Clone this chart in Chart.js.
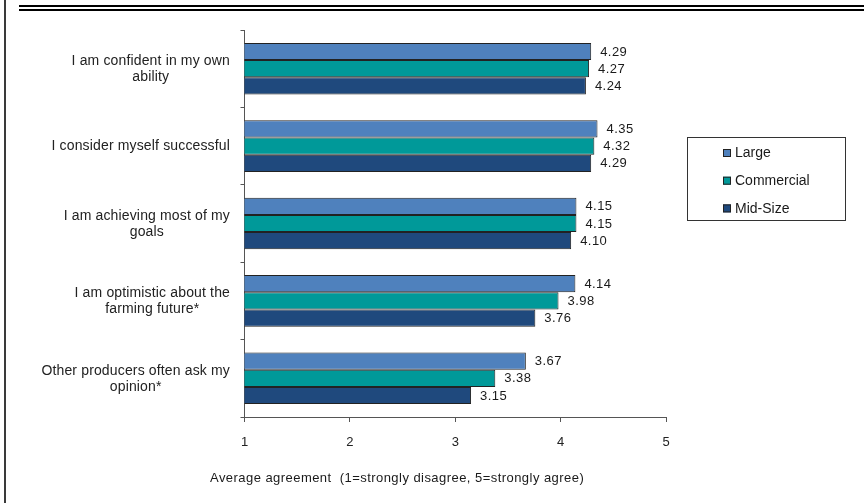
<!DOCTYPE html>
<html>
<head>
<meta charset="utf-8">
<script src="https://cdn.jsdelivr.net/npm/chart.js@4.4.1/dist/chart.umd.min.js"></script>
<style>
  html, body { margin: 0; padding: 0; background: #fff; }
  #wrap { width: 864px; height: 503px; position: relative; }
</style>
</head>
<body>
<div id="wrap"><canvas id="chart"></canvas></div>
<script>
// -------- data --------
const statements = [
  ["I am confident in my own", "ability"],
  ["I consider myself successful"],
  ["I am achieving most of my", "goals"],
  ["I am optimistic about the", "farming future*"],
  ["Other producers often ask my", "opinion*"]
];
const seriesNames = ["Large", "Commercial", "Mid-Size"];
const large      = [4.29, 4.35, 4.15, 4.14, 3.67];
const commercial = [4.27, 4.32, 4.15, 3.98, 3.38];
const midSize    = [4.24, 4.29, 4.10, 3.76, 3.15];
const xTicks = [1, 2, 3, 4, 5];
const xTitle = "Average agreement  (1=strongly disagree, 5=strongly agree)";

const colors = ["#4f81bd", "#009999", "#1f497d"];
const FONT = "'Liberation Sans', Arial, sans-serif";

// -------- helpers: frame, category labels, value labels, legend, axis title --------
const decorations = {
  id: "decorations",
  afterDraw(chart) {
    const { ctx, chartArea } = chart;
    const yScale = chart.scales.y;
    ctx.save();

    // page frame: left rule + double rule at the top
    ctx.fillStyle = "#3a3a3a";
    ctx.fillRect(4, 0, 2, chart.height);
    ctx.fillStyle = "#000";
    ctx.fillRect(19, 5, chart.width - 19, 2);
    ctx.fillRect(19, 9, chart.width - 19, 2);

    // category labels: block right-aligned, lines centred within the block
    ctx.font = "14px " + FONT;
    ctx.letterSpacing = "0.15px";
    ctx.fillStyle = "#222";
    ctx.textAlign = "center";
    ctx.textBaseline = "middle";
    const right = chartArea.left - 14.5;
    const lh = 16;
    statements.forEach((lines, i) => {
      const cy = yScale.getPixelForTick(i);
      const w = Math.max(...lines.map(l => ctx.measureText(l).width));
      const cx = right - w / 2;
      const y0 = cy - (lines.length - 1) * lh / 2 + 0.5;
      lines.forEach((l, k) => ctx.fillText(l, cx, y0 + k * lh));
    });

    // value labels to the right of each bar
    ctx.font = "13px " + FONT;
    ctx.letterSpacing = "0.45px";
    ctx.fillStyle = "#1a1a1a";
    ctx.textAlign = "left";
    chart.data.datasets.forEach((ds, di) => {
      chart.getDatasetMeta(di).data.forEach((bar, i) => {
        ctx.fillText(ds.data[i].toFixed(2), bar.x + 9, bar.y + 0.5);
      });
    });

    // axis title
    ctx.fillText(xTitle, 210, 478);

    // legend box
    const lx = 687.5, ly = 137.5, lw = 158, lhgt = 83;
    ctx.strokeStyle = "#333";
    ctx.lineWidth = 1;
    ctx.strokeRect(lx, ly, lw, lhgt);
    ctx.font = "14px " + FONT;
    ctx.letterSpacing = "0px";
    seriesNames.forEach((name, i) => {
      const ry = 153 + i * 27.7;
      ctx.fillStyle = colors[i];
      ctx.fillRect(723, ry - 4, 8, 8);
      ctx.strokeStyle = "#222";
      ctx.strokeRect(723.5, ry - 3.5, 7, 7);
      ctx.fillStyle = "#1a1a1a";
      ctx.fillText(name, 735, ry + 0.5);
    });

    ctx.restore();
  }
};

new Chart(document.getElementById("chart"), {
  type: "bar",
  data: {
    labels: statements.map(s => s.join(" ")),
    datasets: [
      { label: seriesNames[0], data: large,      backgroundColor: colors[0] },
      { label: seriesNames[1], data: commercial, backgroundColor: colors[1] },
      { label: seriesNames[2], data: midSize,    backgroundColor: colors[2] }
    ].map(d => ({ ...d, borderColor: "#222", borderWidth: 1, borderSkipped: false,
                  barPercentage: 1.0, categoryPercentage: 0.667 }))
  },
  options: {
    indexAxis: "y",
    responsive: true,
    maintainAspectRatio: false,
    animation: false,
    layout: { padding: { top: 30, right: 198, left: 0, bottom: 0 } },
    plugins: { legend: { display: false }, tooltip: { enabled: false } },
    scales: {
      x: {
        min: 1, max: 5,
        afterBuildTicks: (s) => { s.ticks = xTicks.map(v => ({ value: v })); },
        afterFit: (s) => { s.height = 86; },
        border: { color: "#555", width: 1 },
        grid: { drawOnChartArea: false, tickLength: 5, color: "#555" },
        ticks: { padding: 13, color: "#222", font: { family: FONT, size: 13 } }
      },
      y: {
        afterFit: (s) => { s.width = 244.5; },
        border: { color: "#555", width: 1 },
        grid: { drawOnChartArea: false, offset: true, tickLength: 4, color: "#555" },
        ticks: { display: false }
      }
    }
  },
  plugins: [decorations]
});
</script>
</body>
</html>
